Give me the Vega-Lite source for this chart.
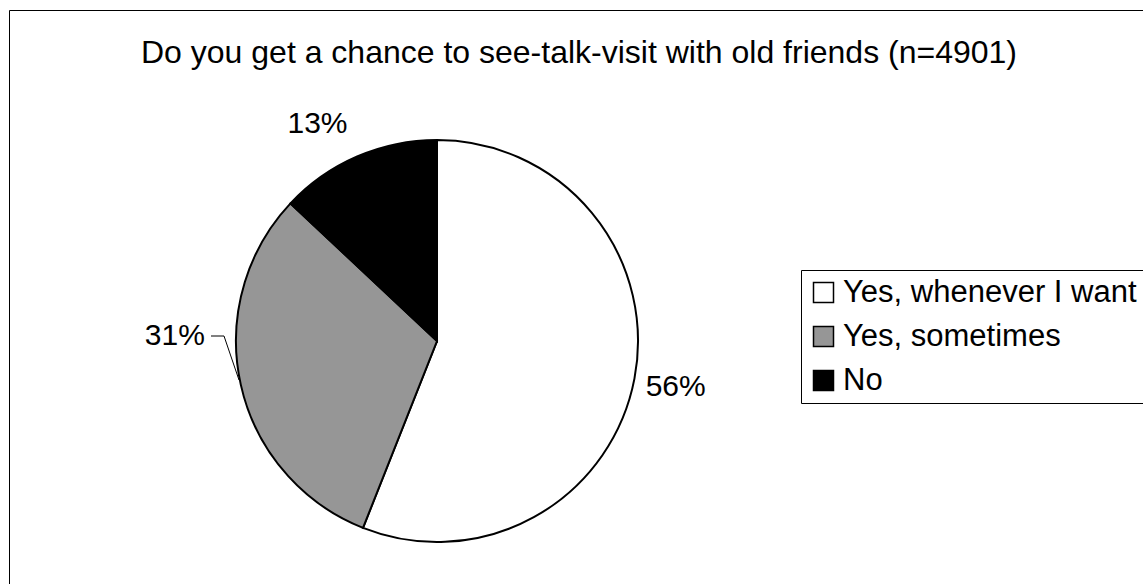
{
  "$schema": "https://vega.github.io/schema/vega-lite/v6.json",
  "width": 1200,
  "height": 620,
  "autosize": "none",
  "padding": {"left": 9, "top": 10, "right": 0, "bottom": 0},
  "background": "white",
  "config": {
    "view": {"stroke": "black", "strokeWidth": 1},
    "font": "Liberation Sans"
  },
  "title": {
    "text": "Do you get a chance to see-talk-visit with old friends (n=4901)",
    "anchor": "middle",
    "frame": "group",
    "dx": -30,
    "offset": -60,
    "fontSize": 32,
    "fontWeight": "normal",
    "color": "black",
    "font": "Liberation Sans"
  },
  "data": {
    "values": [
      {"answer": "Yes, whenever I want", "share": 0.56, "order": 1},
      {"answer": "Yes, sometimes", "share": 0.31, "order": 2},
      {"answer": "No", "share": 0.13, "order": 3}
    ]
  },
  "encoding": {
    "x": {"datum": 428, "type": "quantitative", "scale": {"domain": [0, 1200], "nice": false, "zero": false}, "axis": null},
    "y": {"datum": 331, "type": "quantitative", "scale": {"domain": [0, 620], "nice": false, "zero": false, "reverse": true}, "axis": null},
    "theta": {"field": "share", "type": "quantitative", "stack": true},
    "order": {"field": "order", "type": "quantitative"}
  },
  "layer": [
    {
      "mark": {"type": "arc", "outerRadius": 201, "stroke": "black", "strokeWidth": 2},
      "encoding": {
        "color": {
          "field": "answer",
          "type": "nominal",
          "sort": ["Yes, whenever I want", "Yes, sometimes", "No"],
          "scale": {"domain": ["Yes, whenever I want", "Yes, sometimes", "No"], "range": ["#ffffff", "#969696", "#000000"]},
          "legend": {
            "title": null,
            "orient": "none",
            "legendX": 792,
            "legendY": 260,
            "symbolType": "square",
            "symbolSize": 400,
            "symbolStrokeColor": "black",
            "symbolStrokeWidth": 1.5,
            "labelFontSize": 31,
            "labelFont": "Liberation Sans",
            "labelColor": "black",
            "labelLimit": 600,
            "rowPadding": 12,
            "labelOffset": 4,
            "strokeColor": "black",
            "fillColor": "white",
            "padding": 7
          }
        }
      }
    },
    {
      "mark": {"type": "text", "fontSize": 30, "font": "Liberation Sans", "color": "black"},
      "encoding": {
        "radius": {"value": 243},
        "text": {"condition": {"test": "datum.answer === 'Yes, whenever I want'", "field": "share", "type": "quantitative", "format": ".0%"}, "value": ""}
      }
    },
    {
      "mark": {"type": "text", "fontSize": 30, "font": "Liberation Sans", "color": "black", "dx": -21, "dy": 11},
      "encoding": {
        "radius": {"value": 248},
        "text": {"condition": {"test": "datum.answer === 'No'", "field": "share", "type": "quantitative", "format": ".0%"}, "value": ""}
      }
    },
    {
      "mark": {"type": "text", "fontSize": 30, "font": "Liberation Sans", "color": "black", "dx": -66, "dy": -49},
      "encoding": {
        "radius": {"value": 201},
        "text": {"condition": {"test": "datum.answer === 'Yes, sometimes'", "field": "share", "type": "quantitative", "format": ".0%"}, "value": ""}
      }
    },
    {
      "data": {"values": [{"part": "leader"}]},
      "mark": {"type": "rule", "color": "black", "strokeWidth": 1},
      "encoding": {
        "x": {"datum": 202, "type": "quantitative"},
        "x2": {"datum": 215},
        "y": {"datum": 326, "type": "quantitative"},
        "y2": {"datum": 326},
        "theta": null,
        "order": null
      }
    },
    {
      "data": {"values": [{"part": "leader"}]},
      "mark": {"type": "rule", "color": "black", "strokeWidth": 1},
      "encoding": {
        "x": {"datum": 215, "type": "quantitative"},
        "x2": {"datum": 230},
        "y": {"datum": 326, "type": "quantitative"},
        "y2": {"datum": 370},
        "theta": null,
        "order": null
      }
    }
  ]
}
